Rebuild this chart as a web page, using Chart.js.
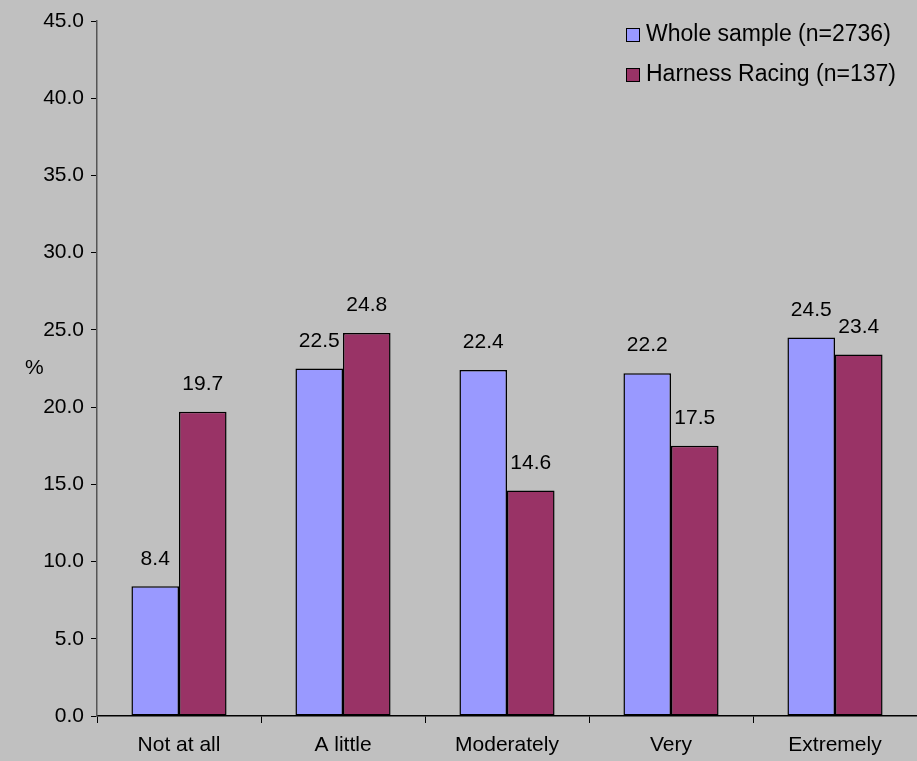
<!DOCTYPE html>
<html>
<head>
<meta charset="utf-8">
<script src="https://cdn.jsdelivr.net/npm/chart.js@4/dist/chart.umd.min.js"></script>
<style>
  html, body { margin: 0; padding: 0; background: #c0c0c0; }
  #wrap { width: 917px; height: 761px; }
</style>
</head>
<body>
<div id="wrap"><canvas id="chart" width="917" height="761"></canvas></div>
<script>
// Data
const categories = ['Not at all', 'A little', 'Moderately', 'Very', 'Extremely'];
const wholeSample = [8.4, 22.5, 22.4, 22.2, 24.5];
const harnessRacing = [19.7, 24.8, 14.6, 17.5, 23.4];
const seriesNames = ['Whole sample (n=2736)', 'Harness Racing (n=137)'];

const FONT = 'Arial, "Liberation Sans", sans-serif';
const FONT_SIZE = 21;

// values above each bar
const valueLabels = {
    id: 'valueLabels',
    afterDatasetsDraw(chart) {
        const ctx = chart.ctx;
        ctx.save();
        ctx.font = FONT_SIZE + 'px ' + FONT;
        ctx.fillStyle = '#000';
        ctx.textAlign = 'center';
        ctx.textBaseline = 'bottom';
        chart.data.datasets.forEach((ds, i) => {
            chart.getDatasetMeta(i).data.forEach((bar, j) => {
                ctx.fillText(ds.data[j].toFixed(1), bar.x, bar.y - 17);
            });
        });
        ctx.restore();
    }
};

// legend in the top right corner and the horizontal "%" axis title
const extras = {
    id: 'extras',
    afterDraw(chart) {
        const ctx = chart.ctx;
        ctx.save();
        ctx.font = FONT_SIZE + 'px ' + FONT;
        ctx.textBaseline = 'middle';
        ctx.fillStyle = '#000';
        ctx.textAlign = 'left';
        ctx.fillText('%', 25, (chart.chartArea.top + chart.chartArea.bottom) / 2);

        ctx.font = '23px ' + FONT;
        chart.data.datasets.forEach((ds, i) => {
            const y = 35 + i * 40;
            ctx.fillStyle = ds.backgroundColor;
            ctx.fillRect(626, y - 7, 13, 13);
            ctx.strokeStyle = '#000';
            ctx.lineWidth = 1;
            ctx.strokeRect(626.5, y - 6.5, 13, 13);
            ctx.fillStyle = '#000';
            ctx.fillText(ds.label, 646, y);
        });
        ctx.restore();
    }
};

new Chart(document.getElementById('chart'), {
    type: 'bar',
    data: {
        labels: categories,
        datasets: [
            {
                label: seriesNames[0],
                data: wholeSample,
                backgroundColor: '#9999ff',
                borderColor: '#000',
                borderWidth: 1.5,
                borderSkipped: false
            },
            {
                label: seriesNames[1],
                data: harnessRacing,
                backgroundColor: '#993366',
                borderColor: '#000',
                borderWidth: 1.5,
                borderSkipped: false
            }
        ]
    },
    options: {
        responsive: false,
        animation: false,
        datasets: {
            bar: { categoryPercentage: 0.58, barPercentage: 1.0 }
        },
        layout: { padding: { top: 21, right: 0, left: 0, bottom: 0 } },
        plugins: {
            legend: { display: false },
            tooltip: { enabled: false }
        },
        scales: {
            x: {
                afterFit(scale) { scale.height = 45; },
                grid: {
                    display: true,
                    drawOnChartArea: false,
                    offset: true,
                    tickLength: 7,
                    color: '#000'
                },
                border: { color: '#000', width: 1.5 },
                ticks: {
                    color: '#000',
                    font: { family: FONT, size: FONT_SIZE },
                    padding: 10,
                    maxRotation: 0
                }
            },
            y: {
                min: 0,
                max: 45,
                afterFit(scale) { scale.width = 97; },
                grid: {
                    display: true,
                    drawOnChartArea: false,
                    tickLength: 6,
                    color: '#000'
                },
                border: { color: '#555', width: 1.5 },
                ticks: {
                    stepSize: 5,
                    color: '#000',
                    font: { family: FONT, size: FONT_SIZE },
                    padding: 7,
                    callback: v => v.toFixed(1)
                }
            }
        }
    },
    plugins: [valueLabels, extras]
});
</script>
</body>
</html>
